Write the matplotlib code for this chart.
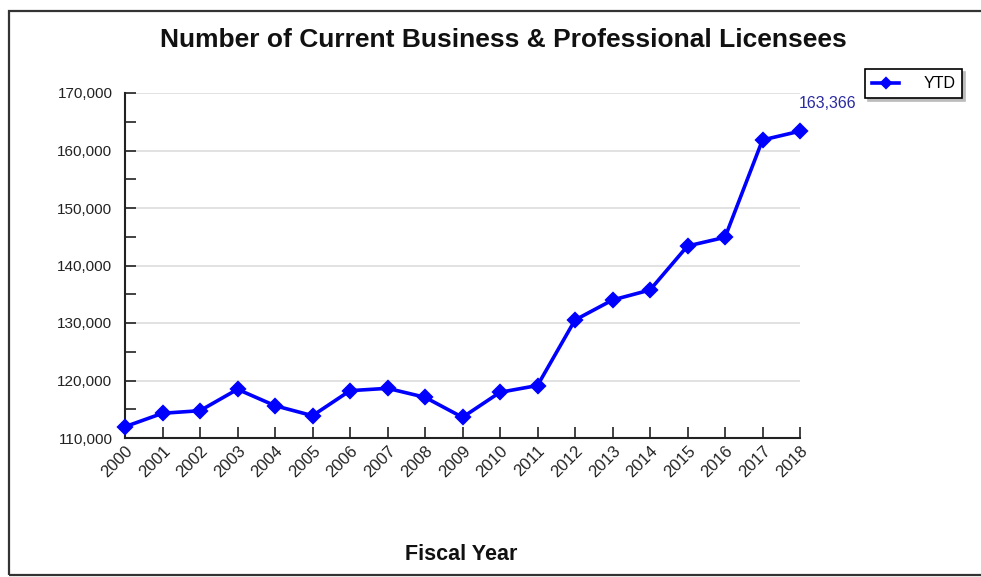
import matplotlib
matplotlib.use("Agg")
import matplotlib.pyplot as plt
from matplotlib.patches import Rectangle
from matplotlib.ticker import FuncFormatter, MultipleLocator

plt.rcParams['font.family'] = ['Liberation Sans', 'DejaVu Sans']

years = list(range(2000, 2019))
licensees = [111965, 114300, 114750, 118470, 115620, 113880, 118230, 118640,
             117080, 113600, 117950, 119130, 130520, 134000, 135740, 143390,
             144900, 161830, 163366]
series_name = "YTD"
title = "Number of Current Business & Professional Licensees"
x_title = "Fiscal Year"

W, H = 981, 577
fig = plt.figure(figsize=(W / 100, H / 100), dpi=100)
fig.patch.set_facecolor('white')

def fx(px):
    return px / W

def fy(py):
    return 1 - py / H

ax = fig.add_axes([fx(125), fy(438), fx(800) - fx(125), fy(93) - fy(438)])

line_color = '#0000ff'
ax.plot(years, licensees, color=line_color, lw=2.6, marker='D', markersize=7.2,
        markeredgewidth=1.6, markeredgecolor=line_color, markerfacecolor=line_color,
        label=series_name, clip_on=False, zorder=3)

ax.set_xlim(years[0], years[-1])
ax.set_ylim(110000, 170000)
ax.set_xticks(years)
ax.set_xticklabels([str(y) for y in years], rotation=45, ha='right',
                   rotation_mode='anchor', fontsize=12, color='#222222')
ax.yaxis.set_major_locator(MultipleLocator(10000))
ax.yaxis.set_minor_locator(MultipleLocator(5000))
ax.yaxis.set_major_formatter(FuncFormatter(lambda v, p: f"{int(v):,}"))
ax.tick_params(axis='y', which='both', direction='in', length=8, width=1.2,
               color='#222222', labelsize=11, labelcolor='#222222', pad=9)
ax.tick_params(axis='x', direction='in', length=8, width=1.2, color='#222222', pad=4)

ax.grid(axis='y', which='major', color='#dddddd', lw=1.2)
ax.set_axisbelow(True)
for s in ['top', 'right']:
    ax.spines[s].set_visible(False)
for s in ['left', 'bottom']:
    ax.spines[s].set_color('#222222')
    ax.spines[s].set_linewidth(1.5)

ax.annotate(f"{licensees[-1]:,}", xy=(years[-1], licensees[-1]),
            xytext=(20, 20), textcoords='offset points', ha='center', va='center',
            fontsize=11.5, color='#2a2aa0', annotation_clip=False)

fig.text(fx(503), fy(40), title, ha='center', va='center', fontsize=19,
         fontweight='bold', color='#111111')
fig.text(fx(461), fy(555), x_title, ha='center', va='center', fontsize=15.5,
         fontweight='bold', color='#111111')

leg = fig.legend(loc='upper left', bbox_to_anchor=(fx(865), fy(69)),
                 bbox_transform=fig.transFigure, frameon=True, fancybox=False,
                 shadow={'color': '#bbbbbb', 'alpha': 1}, edgecolor='black',
                 borderaxespad=0, fontsize=11.5,
                 handlelength=1.7, handletextpad=1.5,
                 borderpad=0.45, markerscale=0.75)
leg.get_frame().set_linewidth(1.2)

fig.add_artist(Rectangle((fx(9), fy(575)), fx(1000), fy(11) - fy(575),
                         transform=fig.transFigure, fill=False,
                         edgecolor='#333333', lw=1.6, clip_on=False))

fig.savefig('out.png', dpi=100)
